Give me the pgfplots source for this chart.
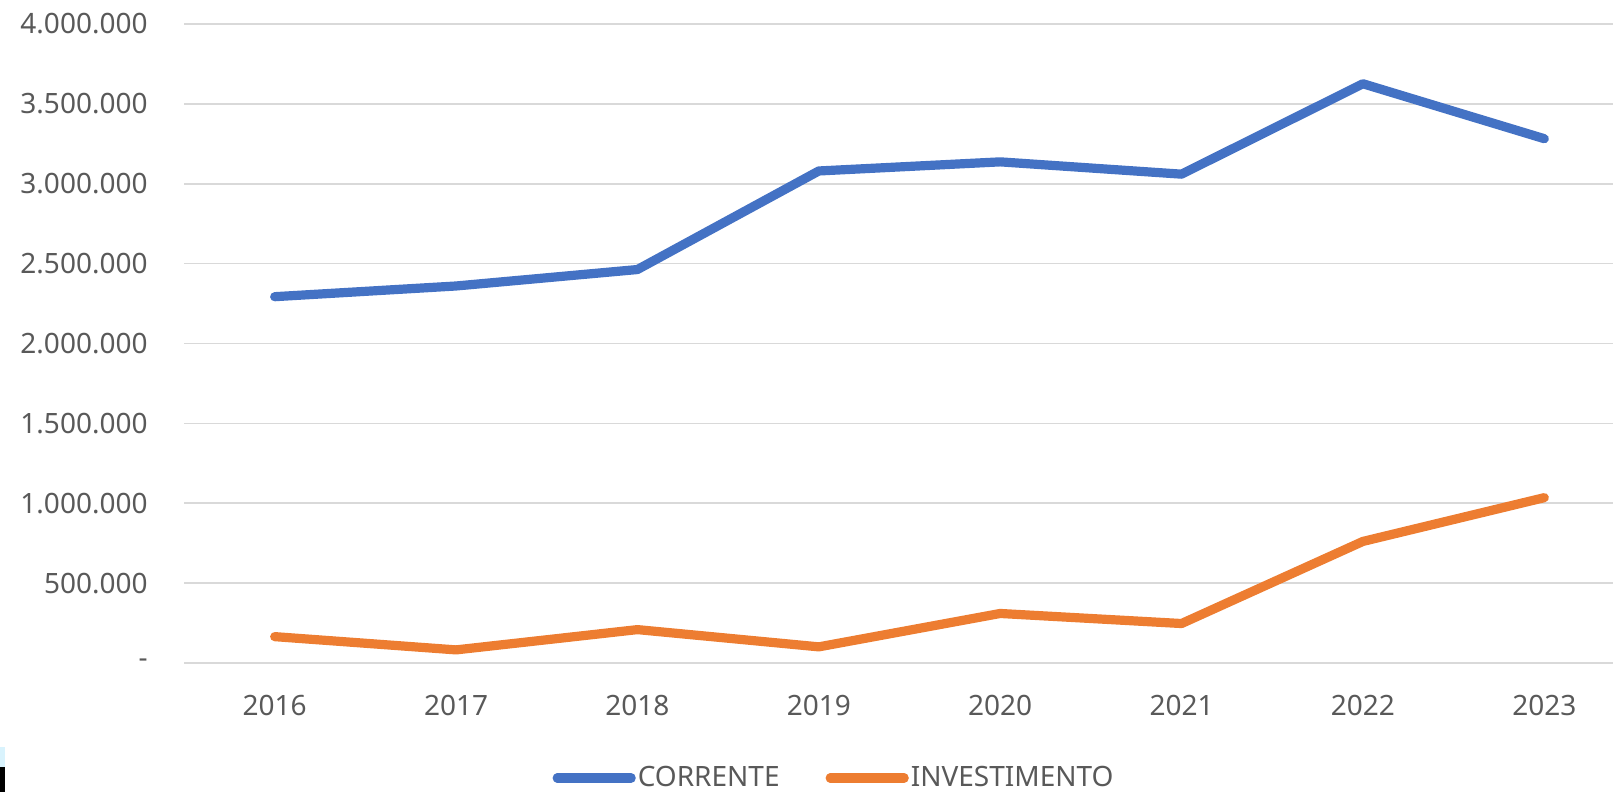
\documentclass[border=0pt]{standalone}
\usepackage{fontspec}
\setmainfont{Noto Sans}
\usepackage{pgfplots}
\pgfplotsset{compat=1.18}
\definecolor{cblue}{HTML}{4472C4}
\definecolor{corange}{HTML}{ED7D31}
\definecolor{ctext}{HTML}{595959}
\definecolor{cgrid}{HTML}{D9D9D9}

\begin{document}
\begin{tikzpicture}
\begin{axis}[
    at={(92pt,64.5pt)}, anchor=south west,
    scale only axis, width=725.5pt, height=319.5pt,
    xmin=-0.5, xmax=7.5, ymin=0, ymax=4000000,
    scaled y ticks=false,
    xtick={0,1,2,3,4,5,6,7},
    xticklabels={2016,2017,2018,2019,2020,2021,2022,2023},
    ytick={0,500000,1000000,1500000,2000000,2500000,3000000,3500000,4000000},
    yticklabels={{-\hspace{7.5pt}},500.000,1.000.000,1.500.000,2.000.000,2.500.000,3.000.000,3.500.000,4.000.000},
    ymajorgrids, grid style={cgrid, line width=0.8pt},
    axis line style={draw=none}, major tick style={draw=none},
    tick label style={font=\fontsize{14}{16}\selectfont, text=ctext},
    yticklabel style={anchor=east, inner sep=0pt, xshift=-18pt},
    xticklabel style={anchor=north, inner sep=0pt, yshift=-16pt},
    legend style={at={(0.448,-0.18)}, anchor=center, draw=none, fill=none,
        legend columns=2, font=\fontsize{14}{16}\selectfont, text=ctext,
        /tikz/every even column/.append style={column sep=22pt},
        inner sep=0pt, nodes={inner sep=1pt}},
    legend image code/.code={\draw[#1] (0pt,0pt) -- (37pt,0pt);},
]
\addplot[cblue, line width=4.6pt, line cap=round, line join=round] coordinates {
(0,2293000) (1,2360000) (2,2463000) (3,3080000) (4,3137000) (5,3060000) (6,3626000) (7,3282000)
};
\addlegendentry{CORRENTE}
\addplot[corange, line width=4.6pt, line cap=round, line join=round] coordinates {
(0,165000) (1,82000) (2,209000) (3,101000) (4,310000) (5,247000) (6,761000) (7,1035000)
};
\addlegendentry{INVESTIMENTO}
\end{axis}
% cropping remnants at the lower left corner of the screenshot
\fill[black] (0pt,0pt) rectangle (2.5pt,12.5pt);
\fill[cyan!15] (0pt,12.5pt) rectangle (2.5pt,22.5pt);
\pgfresetboundingbox
\useasboundingbox (0pt,0pt) rectangle (806.5pt,396pt);
\end{tikzpicture}
\end{document}
